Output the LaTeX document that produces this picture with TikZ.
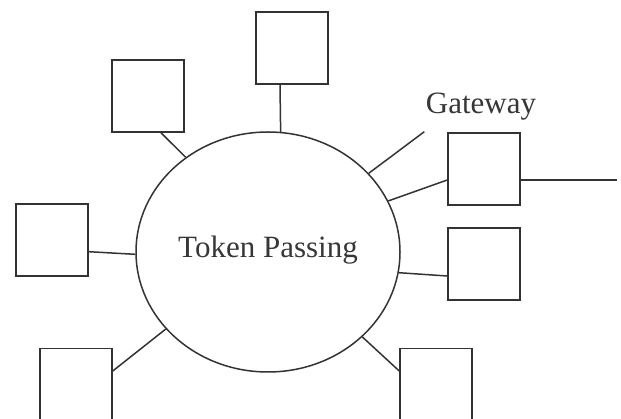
\documentclass[tikz,border=0pt]{standalone}
\usepackage{fontspec}
\setmainfont{Liberation Serif}
\usetikzlibrary{shapes.geometric,calc}
\definecolor{ink}{RGB}{50,50,55}
\definecolor{txt}{RGB}{55,55,58}
\tikzset{
  station/.style={draw=ink, line width=1.5pt, rectangle, minimum size=72pt, inner sep=0pt},
  ring/.style={draw=ink, line width=1.5pt, ellipse, minimum width=264pt, minimum height=240pt, inner sep=0pt},
  link/.style={draw=ink, line width=1.5pt},
  caption/.style={text=txt, font=\fontsize{31}{37}\selectfont, inner sep=0pt, anchor=base}
}
\begin{document}
\begin{tikzpicture}[x=1pt,y=-1pt]
\useasboundingbox (0,0) rectangle (621,419);
\clip (0,0) rectangle (621,419);

% the token ring
\node[ring] (tok) at (268,252) {};
\node[caption] (toklabel) at (268,257.5) {Token Passing};

% stations around the ring
\node[station] (top)    at (292,48) {};
\node[station] (ul)     at (148,96) {};
\node[station] (left)   at (52,240) {};
\node[station] (ll)     at (76,384.5) {};
\node[station] (lr)     at (436,384.5) {};
\node[station] (rmid)   at (484,264) {};
\node[station] (gw)     at (484,169) {};
\node[caption] (gwlabel) at (481,113.5) {Gateway};

% outside ends
\coordinate (wan) at (617,180);
\coordinate (stub) at (424.3,131.7);

% connectors
\draw[link] (top.south) ++(-12,0) coordinate (topend) (topend) -- (tok.84.3);
\draw[link] (ul.south) ++(13,0) coordinate (ulend) (ulend) -- (tok.131.1);
\draw[link] (left.east) ++(0,11.7) coordinate (leftend) (leftend) -- (tok.181.3);
\draw[link] (ll.east) ++(0,-13.5) coordinate (llend) (llend) -- (tok.217.6);
\draw[link] (lr.west) ++(0,-13.5) coordinate (lrend) (lrend) -- (tok.318.9);
\draw[link] (rmid.west) ++(0,12) coordinate (rmidend) (rmidend) -- (tok.351.1);
\draw[link] (gw.west) ++(0,11) coordinate (gwend) (gwend) -- (tok.23.5);
\draw[link] (gw.east) ++(0,11) coordinate (gwout) (gwout) -- (wan);
\draw[link] (tok.38.1) -- (stub);
\end{tikzpicture}
\end{document}
